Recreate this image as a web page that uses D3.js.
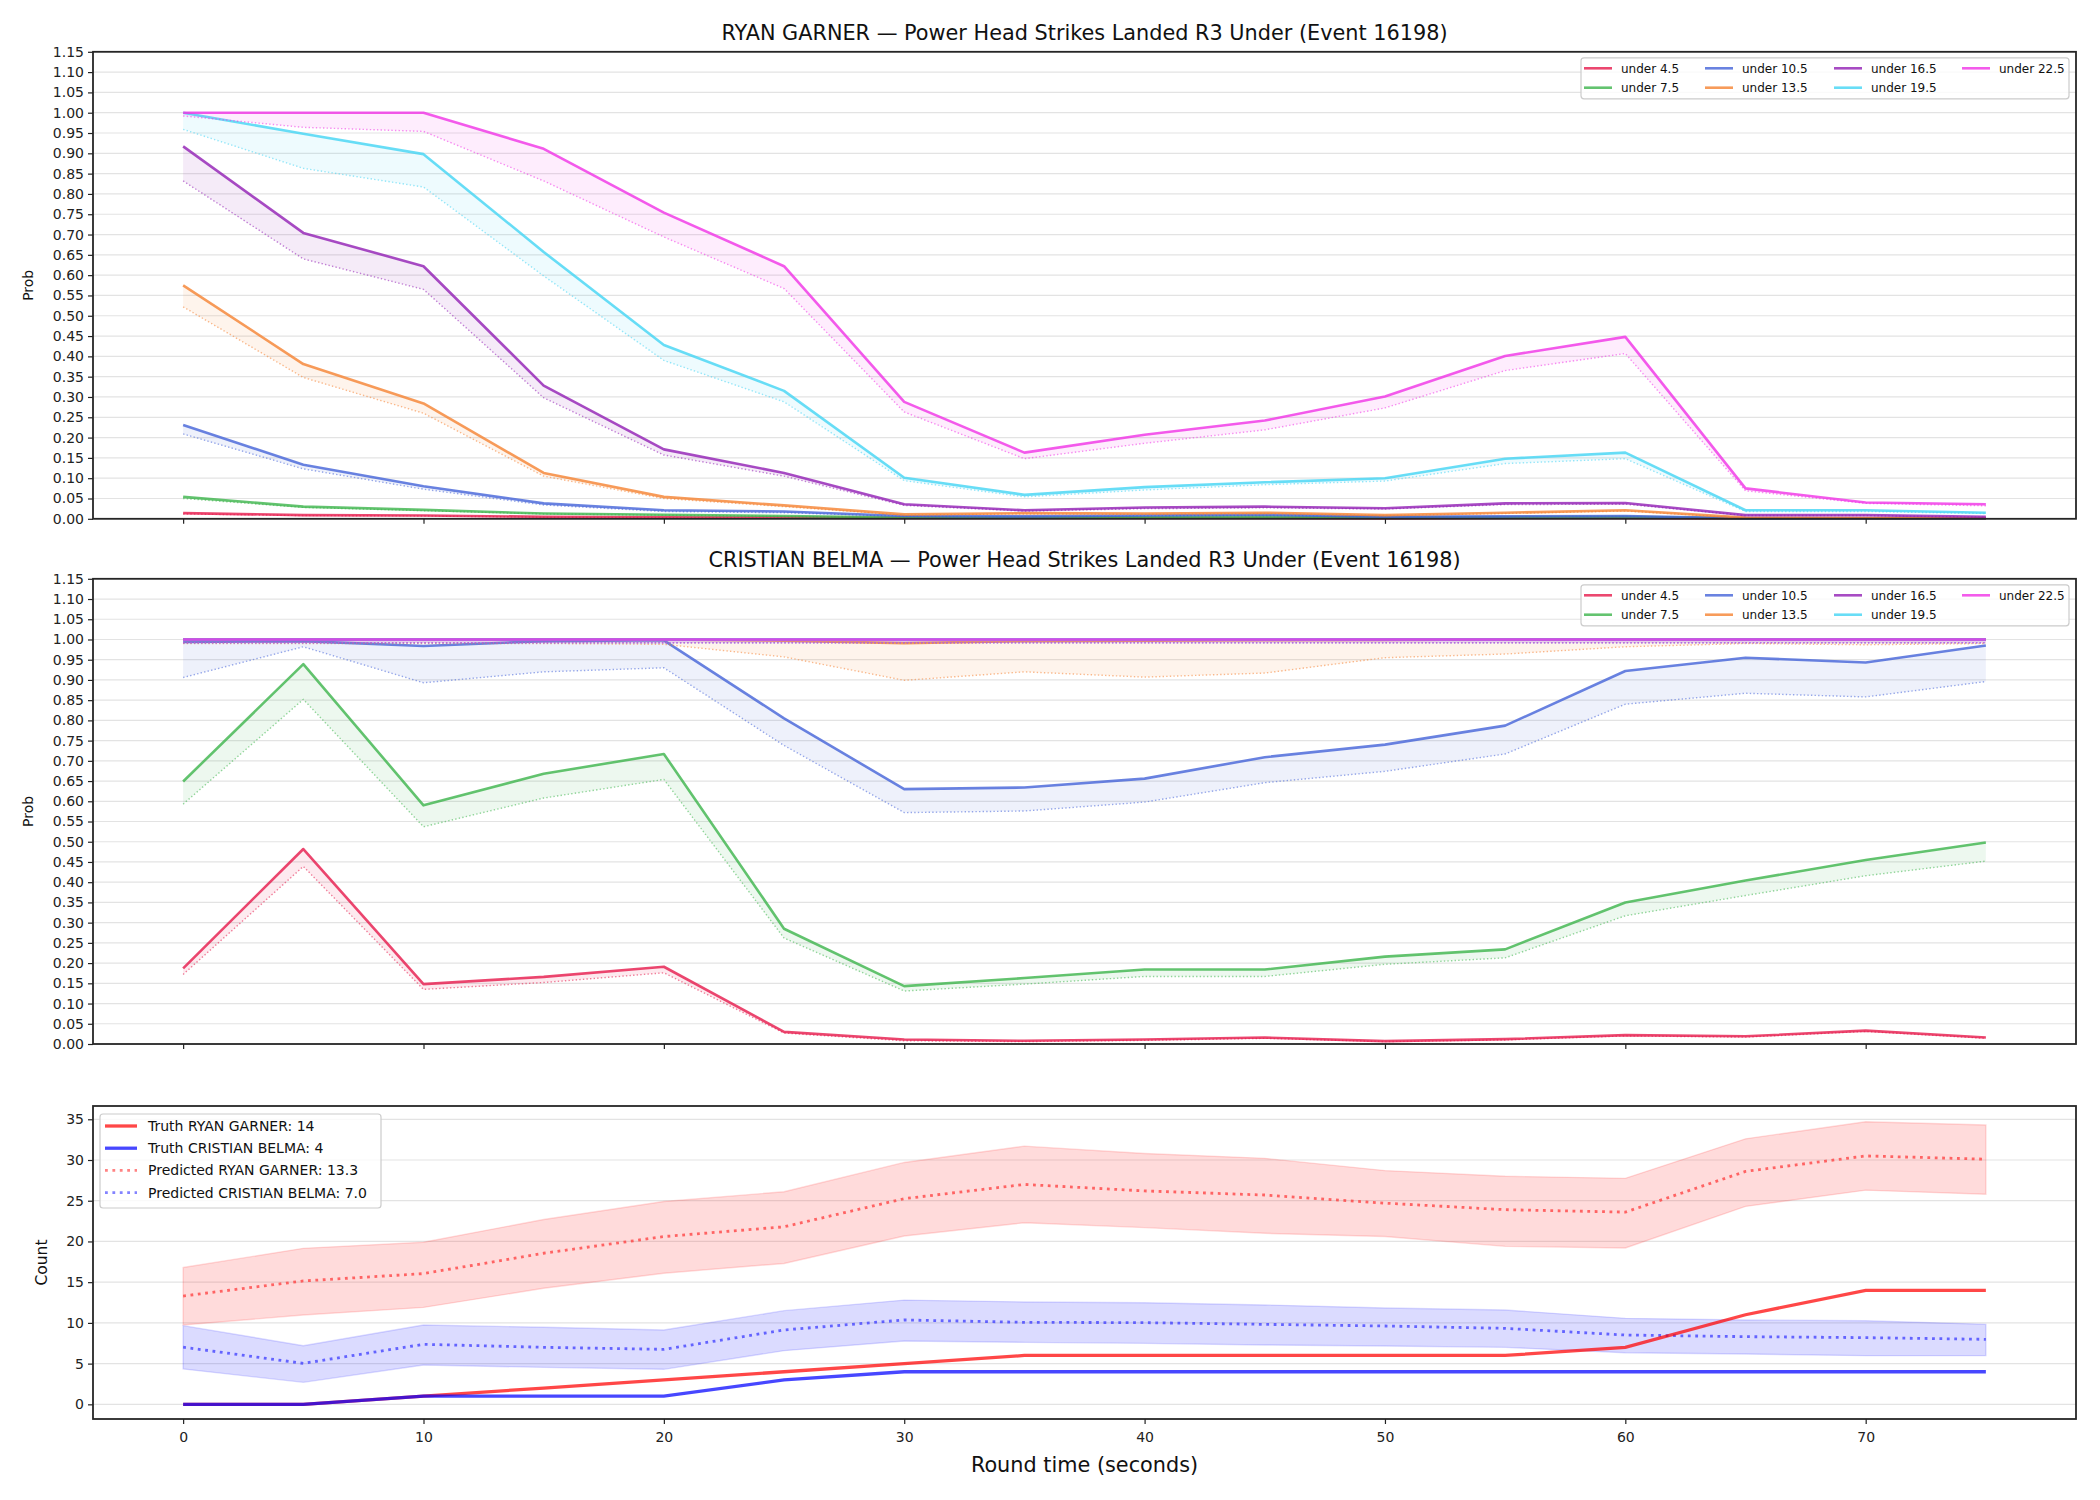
<!DOCTYPE html>
<html>
<head>
<meta charset="utf-8">
<script src="https://cdn.jsdelivr.net/npm/d3@7"></script>
<style>
  body { margin: 0; background: #fff; }
  svg text { font-family: "DejaVu Sans", sans-serif; }
</style>
</head>
<body>
<svg id="chart" width="2100" height="1500"></svg>
<script>
const times = [0, 5, 10, 15, 20, 25, 30, 35, 40, 45, 50, 55, 60, 65, 70, 75];
const thresholds = ["under 4.5", "under 7.5", "under 10.5", "under 13.5", "under 16.5", "under 19.5", "under 22.5"];
const seriesColors = ["#e6194b", "#3cb44b", "#4363d8", "#f58231", "#911eb4", "#42d4f4", "#f032e6"];
const probTicks = d3.range(0, 24).map(i => +(i * 0.05).toFixed(2));
const countTicks = [0, 5, 10, 15, 20, 25, 30, 35];
const xTicks = [0, 10, 20, 30, 40, 50, 60, 70];

// RYAN GARNER, one row per threshold
const garnerLine = [
  [0.014, 0.009, 0.008, 0.005, 0.004, 0.003, 0.002, 0.002, 0.002, 0.002, 0.001, 0.002, 0.002, 0.0005, 0.0005, 0.0005],
  [0.054, 0.030, 0.022, 0.013, 0.010, 0.007, 0.003, 0.003, 0.004, 0.005, 0.003, 0.004, 0.005, 0.001, 0.001, 0.001],
  [0.231, 0.133, 0.080, 0.038, 0.021, 0.018, 0.007, 0.006, 0.008, 0.010, 0.005, 0.006, 0.007, 0.001, 0.001, 0.001],
  [0.575, 0.381, 0.284, 0.113, 0.054, 0.033, 0.011, 0.014, 0.013, 0.015, 0.009, 0.015, 0.021, 0.003, 0.002, 0.002],
  [0.917, 0.704, 0.622, 0.328, 0.171, 0.113, 0.036, 0.021, 0.028, 0.030, 0.026, 0.038, 0.039, 0.009, 0.009, 0.005],
  [1.000, 0.948, 0.898, 0.657, 0.428, 0.315, 0.101, 0.059, 0.078, 0.090, 0.100, 0.148, 0.163, 0.021, 0.021, 0.015],
  [1.000, 1.000, 1.000, 0.911, 0.754, 0.622, 0.288, 0.163, 0.207, 0.242, 0.301, 0.401, 0.448, 0.075, 0.040, 0.036]
];
const garnerDotted = [
  [0.012, 0.008, 0.007, 0.004, 0.003, 0.002, 0.0015, 0.0015, 0.0015, 0.0015, 0.001, 0.0015, 0.0015, 0.0004, 0.0004, 0.0004],
  [0.050, 0.028, 0.020, 0.012, 0.009, 0.006, 0.0025, 0.0025, 0.0035, 0.0045, 0.0025, 0.0035, 0.0045, 0.0008, 0.0008, 0.0008],
  [0.209, 0.123, 0.073, 0.034, 0.018, 0.015, 0.006, 0.005, 0.007, 0.009, 0.004, 0.005, 0.006, 0.001, 0.001, 0.001],
  [0.522, 0.348, 0.260, 0.105, 0.050, 0.030, 0.009, 0.012, 0.011, 0.013, 0.008, 0.013, 0.019, 0.002, 0.002, 0.002],
  [0.832, 0.640, 0.565, 0.298, 0.157, 0.105, 0.033, 0.019, 0.025, 0.027, 0.024, 0.035, 0.036, 0.008, 0.008, 0.004],
  [0.959, 0.863, 0.817, 0.598, 0.390, 0.288, 0.094, 0.054, 0.071, 0.084, 0.093, 0.136, 0.148, 0.018, 0.018, 0.013],
  [0.992, 0.964, 0.954, 0.832, 0.694, 0.567, 0.263, 0.148, 0.186, 0.219, 0.273, 0.365, 0.407, 0.069, 0.038, 0.032]
];

// CRISTIAN BELMA
const belmaLine = [
  [0.187, 0.482, 0.148, 0.166, 0.191, 0.030, 0.011, 0.008, 0.011, 0.016, 0.007, 0.012, 0.022, 0.019, 0.033, 0.016],
  [0.649, 0.939, 0.590, 0.668, 0.717, 0.285, 0.143, 0.163, 0.184, 0.184, 0.216, 0.234, 0.350, 0.404, 0.455, 0.498],
  [0.994, 0.996, 0.984, 0.996, 0.998, 0.805, 0.630, 0.634, 0.656, 0.709, 0.740, 0.787, 0.922, 0.955, 0.943, 0.985],
  [1.000, 1.000, 1.000, 1.000, 1.000, 0.997, 0.991, 0.996, 0.997, 0.998, 0.999, 1.000, 1.000, 1.000, 1.000, 1.000],
  [1, 1, 1, 1, 1, 1, 1, 1, 1, 1, 1, 1, 1, 1, 1, 1],
  [1, 1, 1, 1, 1, 1, 1, 1, 1, 1, 1, 1, 1, 1, 1, 1],
  [1, 1, 1, 1, 1, 1, 1, 1, 1, 1, 1, 1, 1, 1, 1, 1]
];
const belmaDotted = [
  [0.172, 0.439, 0.135, 0.152, 0.176, 0.027, 0.008, 0.006, 0.009, 0.014, 0.006, 0.010, 0.020, 0.017, 0.031, 0.014],
  [0.593, 0.852, 0.537, 0.608, 0.654, 0.262, 0.131, 0.148, 0.167, 0.167, 0.197, 0.213, 0.317, 0.367, 0.416, 0.452],
  [0.906, 0.982, 0.893, 0.920, 0.930, 0.738, 0.572, 0.576, 0.598, 0.646, 0.674, 0.717, 0.840, 0.867, 0.858, 0.896],
  [0.990, 0.990, 0.990, 0.990, 0.988, 0.957, 0.899, 0.920, 0.907, 0.917, 0.955, 0.964, 0.982, 0.990, 0.987, 0.990],
  [0.992, 0.992, 0.992, 0.992, 0.992, 0.992, 0.992, 0.992, 0.992, 0.992, 0.992, 0.992, 0.992, 0.992, 0.992, 0.992],
  [0.992, 0.992, 0.992, 0.992, 0.992, 0.992, 0.992, 0.992, 0.992, 0.992, 0.992, 0.992, 0.992, 0.992, 0.992, 0.992],
  [0.992, 0.992, 0.992, 0.992, 0.992, 0.992, 0.992, 0.992, 0.992, 0.992, 0.992, 0.992, 0.992, 0.992, 0.992, 0.992]
];

// counts panel
const truthGarner = [0, 0, 1, 2, 3, 4, 5, 6, 6, 6, 6, 6, 7, 11, 14, 14];
const truthBelma = [0, 0, 1, 1, 1, 3, 4, 4, 4, 4, 4, 4, 4, 4, 4, 4];
const predGarner = [13.3, 15.15, 16.05, 18.55, 20.6, 21.8, 25.25, 27.0, 26.2, 25.7, 24.7, 23.9, 23.6, 28.6, 30.5, 30.1];
const predGarnerHigh = [16.8, 19.15, 19.9, 22.7, 24.9, 26.1, 29.7, 31.7, 30.8, 30.2, 28.7, 28.0, 27.75, 32.6, 34.7, 34.3];
const predGarnerLow = [9.74, 10.97, 11.9, 14.25, 16.1, 17.3, 20.67, 22.3, 21.7, 21.0, 20.6, 19.4, 19.2, 24.3, 26.3, 25.8];
const predBelma = [7.02, 5.03, 7.37, 7.0, 6.75, 9.13, 10.36, 10.07, 10.03, 9.82, 9.62, 9.33, 8.51, 8.31, 8.19, 7.98];
const predBelmaHigh = [9.66, 7.2, 9.74, 9.46, 9.13, 11.5, 12.8, 12.57, 12.48, 12.2, 11.83, 11.58, 10.56, 10.36, 10.27, 9.82];
const predBelmaLow = [4.34, 2.7, 4.83, 4.54, 4.3, 6.59, 7.78, 7.61, 7.49, 7.29, 7.16, 7.0, 6.34, 6.18, 5.98, 5.98];

const svg = d3.select("#chart");
const x = d3.scaleLinear().domain([-3.75, 78.75]).range([93, 2076]);
const left = x.range()[0];
const right = x.range()[1];

function drawGrid(y, ticks) {
  svg.append("g")
    .selectAll("line")
    .data(ticks)
    .enter()
    .append("line")
    .attr("x1", left)
    .attr("x2", right)
    .attr("y1", d => y(d))
    .attr("y2", d => y(d))
    .attr("stroke", "#e3e3e3")
    .attr("stroke-width", 1.2);
}

function drawAxes(y, ticks, fmt, showXLabels) {
  const top = y.range()[1];
  const bottom = y.range()[0];

  const yAxis = svg.append("g")
    .attr("transform", "translate(" + left + ",0)")
    .call(d3.axisLeft(y).tickValues(ticks).tickFormat(fmt).tickSize(5).tickPadding(4));
  yAxis.select(".domain").remove();

  const xAxis = svg.append("g")
    .attr("transform", "translate(0," + bottom + ")")
    .call(d3.axisBottom(x).tickValues(xTicks)
      .tickFormat(showXLabels ? d3.format("d") : "")
      .tickSize(5).tickPadding(8));
  xAxis.select(".domain").remove();

  svg.selectAll(".tick line").attr("stroke", "#222").attr("stroke-width", 1.2);
  svg.selectAll(".tick text")
    .attr("fill", "#222")
    .attr("font-size", "14px")
    .attr("font-family", "DejaVu Sans");

  svg.append("rect")
    .attr("x", left)
    .attr("y", top)
    .attr("width", right - left)
    .attr("height", bottom - top)
    .attr("fill", "none")
    .attr("stroke", "#262626")
    .attr("stroke-width", 1.8);
}

function drawProbPanel(y, title, lineRows, dottedRows) {
  drawGrid(y, probTicks);

  const line = d3.line()
    .x((d, i) => x(times[i]))
    .y(d => y(d));

  const area = d3.area()
    .x((d, i) => x(times[i]))
    .y0(d => y(d[0]))
    .y1(d => y(d[1]));

  thresholds.forEach((name, k) => {
    const color = seriesColors[k];
    const pairs = lineRows[k].map((v, i) => [dottedRows[k][i], v]);

    svg.append("path")
      .attr("d", area(pairs))
      .attr("fill", color)
      .attr("fill-opacity", 0.09);

    svg.append("path")
      .attr("d", line(dottedRows[k]))
      .attr("fill", "none")
      .attr("stroke", color)
      .attr("stroke-opacity", 0.55)
      .attr("stroke-width", 1.4)
      .attr("stroke-dasharray", "1.4,2.2");

    svg.append("path")
      .attr("d", line(lineRows[k]))
      .attr("fill", "none")
      .attr("stroke", color)
      .attr("stroke-opacity", 0.8)
      .attr("stroke-width", 2.6)
      .attr("stroke-linejoin", "round");
  });

  drawAxes(y, probTicks, d3.format(".2f"), false);

  const top = y.range()[1];
  const bottom = y.range()[0];

  svg.append("text")
    .attr("x", (left + right) / 2)
    .attr("y", top - 12)
    .attr("text-anchor", "middle")
    .attr("font-size", "20.8px")
    .attr("fill", "#111")
    .text(title);

  svg.append("text")
    .attr("transform", "translate(33," + (top + bottom) / 2 + ") rotate(-90)")
    .attr("text-anchor", "middle")
    .attr("font-size", "14px")
    .attr("fill", "#111")
    .text("Prob");

  // legend, 4 columns filled column by column
  const lx = 1581;
  const ly = top + 6;
  svg.append("rect")
    .attr("x", lx)
    .attr("y", ly)
    .attr("width", 488)
    .attr("height", 41)
    .attr("rx", 3)
    .attr("fill", "white")
    .attr("fill-opacity", 0.8)
    .attr("stroke", "#cccccc")
    .attr("stroke-width", 1.2);

  const colX = [1584, 1705, 1834, 1962];
  const legendItems = svg.append("g")
    .selectAll("g")
    .data(thresholds)
    .enter()
    .append("g")
    .attr("transform", (d, i) => "translate(" + colX[Math.floor(i / 2)] + "," + (ly + 10.5 + (i % 2) * 19.4) + ")");

  legendItems.append("line")
    .attr("x1", 0)
    .attr("x2", 28)
    .attr("stroke", (d, i) => seriesColors[i])
    .attr("stroke-opacity", 0.8)
    .attr("stroke-width", 2.6);

  legendItems.append("text")
    .attr("x", 37)
    .attr("y", 4.3)
    .attr("font-size", "12px")
    .attr("fill", "#111")
    .text(d => d);
}

function drawCountPanel(y) {
  drawGrid(y, countTicks);

  const line = d3.line()
    .x((d, i) => x(times[i]))
    .y(d => y(d));

  const band = d3.area()
    .x((d, i) => x(times[i]))
    .y0(d => y(d[0]))
    .y1(d => y(d[1]));

  const bands = [
    { low: predGarnerLow, high: predGarnerHigh, color: "#ff0000" },
    { low: predBelmaLow, high: predBelmaHigh, color: "#0000ff" }
  ];

  bands.forEach(b => {
    svg.append("path")
      .attr("d", band(b.low.map((v, i) => [v, b.high[i]])))
      .attr("fill", b.color)
      .attr("fill-opacity", 0.14)
      .attr("stroke", b.color)
      .attr("stroke-opacity", 0.14)
      .attr("stroke-width", 1.4);
  });

  svg.append("path")
    .attr("d", line(predGarner))
    .attr("fill", "none")
    .attr("stroke", "#ff3030")
    .attr("stroke-opacity", 0.7)
    .attr("stroke-width", 2.8)
    .attr("stroke-dasharray", "2.8,4.6");

  svg.append("path")
    .attr("d", line(predBelma))
    .attr("fill", "none")
    .attr("stroke", "#3030ff")
    .attr("stroke-opacity", 0.7)
    .attr("stroke-width", 2.8)
    .attr("stroke-dasharray", "2.8,4.6");

  svg.append("path")
    .attr("d", line(truthGarner))
    .attr("fill", "none")
    .attr("stroke", "#ff0000")
    .attr("stroke-opacity", 0.72)
    .attr("stroke-width", 3.3);

  svg.append("path")
    .attr("d", line(truthBelma))
    .attr("fill", "none")
    .attr("stroke", "#0000ff")
    .attr("stroke-opacity", 0.72)
    .attr("stroke-width", 3.3);

  drawAxes(y, countTicks, d3.format("d"), true);

  const top = y.range()[1];
  const bottom = y.range()[0];

  svg.append("text")
    .attr("transform", "translate(47," + (top + bottom) / 2 + ") rotate(-90)")
    .attr("text-anchor", "middle")
    .attr("font-size", "15.5px")
    .attr("fill", "#111")
    .text("Count");

  svg.append("text")
    .attr("x", (left + right) / 2)
    .attr("y", 1472)
    .attr("text-anchor", "middle")
    .attr("font-size", "20.8px")
    .attr("fill", "#111")
    .text("Round time (seconds)");

  const last = times.length - 1;
  const legendData = [
    { label: "Truth RYAN GARNER: " + truthGarner[last], color: "#ff0000", dash: null },
    { label: "Truth CRISTIAN BELMA: " + truthBelma[last], color: "#0000ff", dash: null },
    { label: "Predicted RYAN GARNER: " + predGarner[0].toFixed(1), color: "#ff3030", dash: "2.8,4.6" },
    { label: "Predicted CRISTIAN BELMA: " + predBelma[0].toFixed(1), color: "#3030ff", dash: "2.8,4.6" }
  ];

  svg.append("rect")
    .attr("x", 100)
    .attr("y", 1114)
    .attr("width", 281)
    .attr("height", 94)
    .attr("rx", 3)
    .attr("fill", "white")
    .attr("fill-opacity", 0.8)
    .attr("stroke", "#cccccc")
    .attr("stroke-width", 1.2);

  const items = svg.append("g")
    .selectAll("g")
    .data(legendData)
    .enter()
    .append("g")
    .attr("transform", (d, i) => "translate(105," + (1126 + i * 22.2) + ")");

  items.append("line")
    .attr("x1", 0)
    .attr("x2", 32)
    .attr("stroke", d => d.color)
    .attr("stroke-opacity", d => d.dash ? 0.6 : 0.72)
    .attr("stroke-width", d => d.dash ? 2.8 : 3.3)
    .attr("stroke-dasharray", d => d.dash);

  items.append("text")
    .attr("x", 43)
    .attr("y", 5)
    .attr("font-size", "14px")
    .attr("fill", "#111")
    .text(d => d.label);
}

const yTop = d3.scaleLinear().domain([0, 1.15]).range([518.8, 51.8]);
const yMid = d3.scaleLinear().domain([0, 1.15]).range([1044, 578.8]);
const yBottom = d3.scaleLinear().domain([-1.8, 36.63]).range([1419, 1106]);

drawProbPanel(yTop, "RYAN GARNER \u2014 Power Head Strikes Landed R3 Under (Event 16198)", garnerLine, garnerDotted);
drawProbPanel(yMid, "CRISTIAN BELMA \u2014 Power Head Strikes Landed R3 Under (Event 16198)", belmaLine, belmaDotted);
drawCountPanel(yBottom);
</script>
</body>
</html>
